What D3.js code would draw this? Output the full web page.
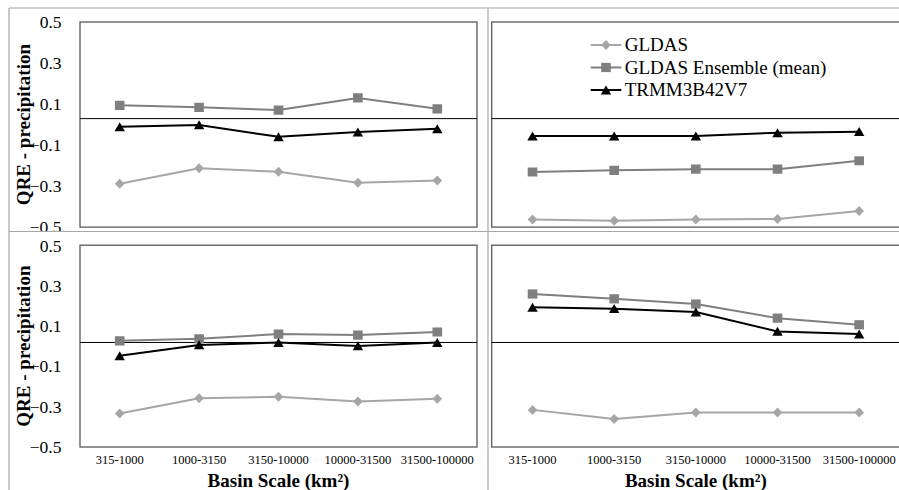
<!DOCTYPE html>
<html>
<head>
<meta charset="utf-8">
<script src="https://cdn.jsdelivr.net/npm/d3@7"></script>
<style>
  html, body { margin: 0; padding: 0; background: #fff; }
  svg { display: block; }
  svg text { font-family: 'Liberation Serif', 'DejaVu Serif', 'Times New Roman', Times, serif !important; }
</style>
</head>
<body>
<svg id="chart" width="899" height="490"></svg>
<script>
// Basin-scale classes on the x axis
const categories = ["315-1000", "1000-3150", "3150-10000", "10000-31500", "31500-100000"];
const yTicks = [0.5, 0.3, 0.1, -0.1, -0.3, -0.5];
const seriesNames = ["GLDAS", "GLDAS Ensemble (mean)", "TRMM3B42V7"];

// QRE of precipitation per panel
const gldasTopLeft     = [-0.290, -0.214, -0.231, -0.285, -0.273];
const ensembleTopLeft  = [0.094, 0.084, 0.071, 0.130, 0.077];
const trmmTopLeft      = [-0.011, -0.002, -0.060, -0.037, -0.021];

const gldasTopRight    = [-0.464, -0.471, -0.464, -0.462, -0.423];
const ensembleTopRight = [-0.232, -0.224, -0.218, -0.218, -0.177];
const trmmTopRight     = [-0.056, -0.056, -0.056, -0.040, -0.035];

const gldasBottomLeft    = [-0.335, -0.259, -0.252, -0.275, -0.262];
const ensembleBottomLeft = [0.026, 0.036, 0.060, 0.055, 0.070];
const trmmBottomLeft     = [-0.048, 0.006, 0.018, 0.001, 0.018];

const gldasBottomRight    = [-0.317, -0.362, -0.330, -0.330, -0.330];
const ensembleBottomRight = [0.259, 0.235, 0.209, 0.139, 0.106];
const trmmBottomRight     = [0.193, 0.186, 0.169, 0.073, 0.060];

// Level where the horizontal category axis crosses, per row
const axisCrossing = [0.029, 0.018];

const svg = d3.select("#chart");
const serif = "'Liberation Serif', 'DejaVu Serif', 'Times New Roman', Times, serif";

// Series styling
const styles = [
  { color: "#a6a6a6", symbol: "diamond" },
  { color: "#7f7f7f", symbol: "square" },
  { color: "#000000", symbol: "triangle" }
];

function markerPath(kind) {
  if (kind === "diamond") return "M0,-5L4.8,0L0,5L-4.8,0Z";
  if (kind === "square") return "M-4.8,-4.6H4.8V4.6H-4.8Z";
  return "M0,-4.6L5.2,4.4L-5.2,4.4Z";
}

// Layout of the 2x2 grid
const cols = [
  { x0: 80, x1: 477, clipX: 9.5, clipW: 478 },
  { x0: 491.7, x1: 900, clipX: 488.5, clipW: 420 }
];
const rows = [
  { yTop: 22.3, yBot: 226.8, clipY: 8.5, clipH: 222.5 },
  { yTop: 245.5, yBot: 446.7, clipY: 232, clipH: 260 }
];

const panels = [
  { r: 0, c: 0, data: [gldasTopLeft, ensembleTopLeft, trmmTopLeft] },
  { r: 0, c: 1, data: [gldasTopRight, ensembleTopRight, trmmTopRight] },
  { r: 1, c: 0, data: [gldasBottomLeft, ensembleBottomLeft, trmmBottomLeft] },
  { r: 1, c: 1, data: [gldasBottomRight, ensembleBottomRight, trmmBottomRight] }
];

const defs = svg.append("defs");

panels.forEach((p, i) => {
  const col = cols[p.c], row = rows[p.r];
  const clipId = "cell" + i;
  defs.append("clipPath").attr("id", clipId)
    .append("rect")
    .attr("x", col.clipX).attr("y", row.clipY)
    .attr("width", col.clipW).attr("height", row.clipH);

  const g = svg.append("g").attr("clip-path", `url(#${clipId})`);

  const x = d3.scaleBand().domain(categories).range([col.x0, col.x1]);
  const y = d3.scaleLinear().domain([-0.5, 0.5]).range([row.yBot, row.yTop]);

  // plot area frame
  g.append("rect")
    .attr("x", col.x0).attr("y", row.yTop - 0.3)
    .attr("width", col.x1 - col.x0).attr("height", row.yBot - row.yTop + 0.6)
    .attr("fill", "none").attr("stroke", "#595959").attr("stroke-width", 1.3);

  // category axis line
  g.append("line")
    .attr("x1", col.x0).attr("x2", col.x1)
    .attr("y1", y(axisCrossing[p.r])).attr("y2", y(axisCrossing[p.r]))
    .attr("stroke", "#000").attr("stroke-width", 1);

  // value axis labels (left column only)
  if (p.c === 0) {
    const yAxis = d3.axisLeft(y).tickValues(yTicks).tickSize(0).tickPadding(0)
      .tickFormat(d3.format(".1f"));
    const ax = g.append("g").attr("transform", `translate(${col.x0 - 18.5},0)`).call(yAxis);
    ax.attr("font-family", serif);
    ax.select(".domain").remove();
    ax.selectAll("text")
      .attr("font-size", 17.5).attr("fill", "#000");

    g.append("text")
      .attr("transform", `translate(29.5,${(row.yTop + row.yBot) / 2}) rotate(-90)`)
      .attr("text-anchor", "middle")
      .attr("font-weight", "bold").attr("font-size", 19)
      .text("QRE - precipitation");
  }

  // category labels and axis title (bottom row only)
  if (p.r === 1) {
    const xAxis = d3.axisBottom(x).tickSize(0).tickPadding(0);
    const ax = g.append("g").attr("transform", "translate(0,455)").call(xAxis);
    ax.attr("font-family", serif);
    ax.select(".domain").remove();
    ax.selectAll("text")
      .attr("font-size", 12.5).attr("fill", "#000");

    g.append("text")
      .attr("x", (col.x0 + col.x1) / 2).attr("y", 487)
      .attr("text-anchor", "middle")
      .attr("font-weight", "bold").attr("font-size", 19)
      .text("Basin Scale (km²)");
  }

  // series lines and markers
  p.data.forEach((vals, s) => {
    const st = styles[s];
    const line = d3.line()
      .x((d, k) => x(categories[k]) + x.bandwidth() / 2)
      .y(d => y(d));
    g.append("path").datum(vals)
      .attr("d", line)
      .attr("fill", "none").attr("stroke", st.color)
      .attr("stroke-width", 2).attr("stroke-linejoin", "round");
    g.selectAll(null).data(vals).enter().append("path")
      .attr("d", markerPath(st.symbol))
      .attr("transform", (d, k) => `translate(${x(categories[k]) + x.bandwidth() / 2},${y(d)})`)
      .attr("fill", st.color);
  });
});

// legend in the upper right panel
const legend = svg.append("g");
seriesNames.forEach((name, s) => {
  const st = styles[s];
  const cy = 45 + s * 22.5;
  legend.append("line")
    .attr("x1", 590.7).attr("x2", 621.3).attr("y1", cy).attr("y2", cy)
    .attr("stroke", st.color).attr("stroke-width", 2);
  legend.append("path")
    .attr("d", markerPath(st.symbol))
    .attr("transform", `translate(606,${cy})`)
    .attr("fill", st.color);
  legend.append("text")
    .attr("x", 624.7).attr("y", cy + 6.3)
    .attr("font-size", 19).attr("fill", "#000")
    .text(name);
});

// outer grid frame
const frame = svg.append("g").attr("stroke", "#a6a6a6").attr("stroke-width", 1.2).attr("fill", "none");
frame.append("line").attr("x1", 9).attr("x2", 899).attr("y1", 8).attr("y2", 8);
frame.append("line").attr("x1", 9).attr("x2", 9).attr("y1", 8).attr("y2", 490);
frame.append("line").attr("x1", 9).attr("x2", 899).attr("y1", 231.5).attr("y2", 231.5);
frame.append("line").attr("x1", 488).attr("x2", 488).attr("y1", 8).attr("y2", 490);
</script>
</body>
</html>
